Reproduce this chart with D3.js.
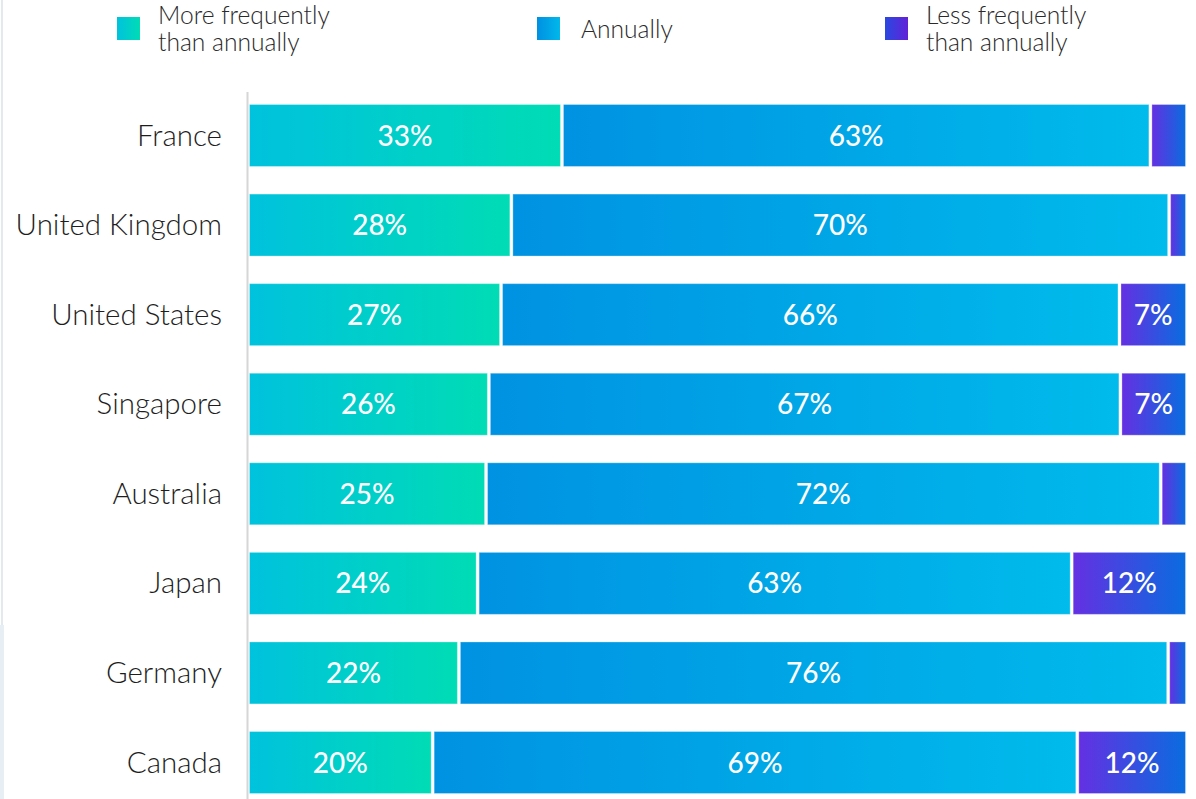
<!DOCTYPE html>
<html>
<head>
<meta charset="utf-8">
<script src="https://cdn.jsdelivr.net/npm/d3@7"></script>
<style>
  html, body { margin: 0; padding: 0; background: #fff; }
  svg { display: block; }
</style>
</head>
<body>
<svg id="chart" width="1196" height="799"></svg>
<script>
const countries = ["France", "United Kingdom", "United States", "Singapore", "Australia", "Japan", "Germany", "Canada"];
const moreFrequently = [33.4, 28.0, 26.9, 25.6, 25.3, 24.4, 22.4, 19.6];
const annually = [62.8, 70.2, 66.0, 67.4, 72.0, 63.4, 75.7, 68.8];
const lessFrequently = [3.8, 1.8, 7.1, 7.0, 2.7, 12.2, 1.9, 11.6];
const seriesNames = ["More frequently than annually", "Annually", "Less frequently than annually"];
const legendLines = [["More frequently", "than annually"], ["Annually"], ["Less frequently", "than annually"]];

const rows = countries.map((c, i) => ({
  country: c,
  s0: moreFrequently[i],
  s1: annually[i],
  s2: lessFrequently[i]
}));

const svg = d3.select("#chart");
const W = 1196, H = 799;

// left edge decorations
svg.append("rect").attr("x", 1).attr("y", 0).attr("width", 2).attr("height", 625).attr("fill", "#e4e9ee");
svg.append("rect").attr("x", 0).attr("y", 625).attr("width", 4).attr("height", 174).attr("fill", "#e8eff4");

const defs = svg.append("defs");
const barGrads = [
  ["#00c2dd", "#00dcb5"],
  ["#0092e2", "#00bbeb"],
  ["#6430e2", "#0a6cdf"]
];
const legGrads = [
  ["#00c2dd", "#00dcb5"],
  ["#0090e2", "#00b8ea"],
  ["#2a48e0", "#6222d8"]
];
function mkGrad(id, cols) {
  const g = defs.append("linearGradient").attr("id", id)
    .attr("x1", "0%").attr("x2", "100%").attr("y1", "0%").attr("y2", "0%");
  g.append("stop").attr("offset", "0%").attr("stop-color", cols[0]);
  g.append("stop").attr("offset", "100%").attr("stop-color", cols[1]);
}
barGrads.forEach((c, i) => mkGrad("bg" + i, c));
legGrads.forEach((c, i) => mkGrad("lg" + i, c));

const x = d3.scaleLinear().domain([0, 1]).range([249, 1186]);
const y = d3.scaleBand().domain(countries).range([90.7, 807.3]).paddingInner(0.297).paddingOuter(0.1485);

const stack = d3.stack().keys(["s0", "s1", "s2"]).offset(d3.stackOffsetExpand);
const series = stack(rows);

// axis line
svg.append("line").attr("x1", 247.5).attr("x2", 247.5).attr("y1", 92).attr("y2", H)
  .attr("stroke", "#d6d6d6").attr("stroke-width", 2);

const gSeries = svg.append("g").selectAll("g").data(series).join("g");
gSeries.each(function(s, si) {
  const g = d3.select(this);
  s.forEach((d) => {
    const last = si === series.length - 1;
    const x0 = x(d[0]) + (si === 0 ? 0 : 1);
    const x1 = last ? x(d[1]) : x(d[1]) - 1;
    const w = Math.max(0, x1 - x0);
    g.append("rect")
      .attr("x", x0 + 0.5)
      .attr("y", y(d.data.country) + 0.5)
      .attr("width", Math.max(0, w - 1))
      .attr("height", y.bandwidth() - 1)
      .attr("fill", `url(#bg${si})`)
      .attr("stroke", "rgba(255,255,255,0.3)")
      .attr("stroke-width", 1);
    const v = d.data["s" + si];
    if (v >= 5) {
      g.append("text")
        .attr("x", (x0 + x1) / 2)
        .attr("y", y(d.data.country) + y.bandwidth() / 2)
        .attr("dy", "0.36em")
        .attr("text-anchor", "middle")
        .attr("fill", "#fff")
        .attr("font-family", "Lato, 'Open Sans', sans-serif")
        .attr("font-weight", 500)
        .attr("font-size", 28)
        .text(Math.round(v) + "%");
    }
  });
});

// country labels
svg.append("g").selectAll("text").data(countries).join("text")
  .attr("x", 222)
  .attr("y", d => y(d) + y.bandwidth() / 2)
  .attr("dy", "0.34em")
  .attr("text-anchor", "end")
  .attr("fill", "#1e1e1e")
  .attr("font-family", "Lato, 'Open Sans', sans-serif")
  .attr("font-weight", 300)
  .attr("font-size", 29.5)
  .text(d => d);

// legend
const legX = [117, 537, 885];
const leg = svg.append("g").selectAll("g").data(seriesNames).join("g")
  .attr("transform", (d, i) => `translate(${legX[i]},0)`);
leg.append("rect").attr("x", 0).attr("y", 17).attr("width", 23).attr("height", 23)
  .attr("fill", (d, i) => `url(#lg${i})`);
leg.each(function(d, i) {
  const lines = legendLines[i];
  const t = d3.select(this).append("text")
    .attr("fill", "#2a2a2a")
    .attr("font-family", "Lato, 'Open Sans', sans-serif")
    .attr("font-weight", 300)
    .attr("font-size", 24.6);
  const startY = lines.length === 1 ? 38 : 24;
  lines.forEach((ln, k) => {
    t.append("tspan").attr("x", i === 1 ? 44 : 41).attr("y", startY + k * 27).text(ln);
  });
});
</script>
</body>
</html>
